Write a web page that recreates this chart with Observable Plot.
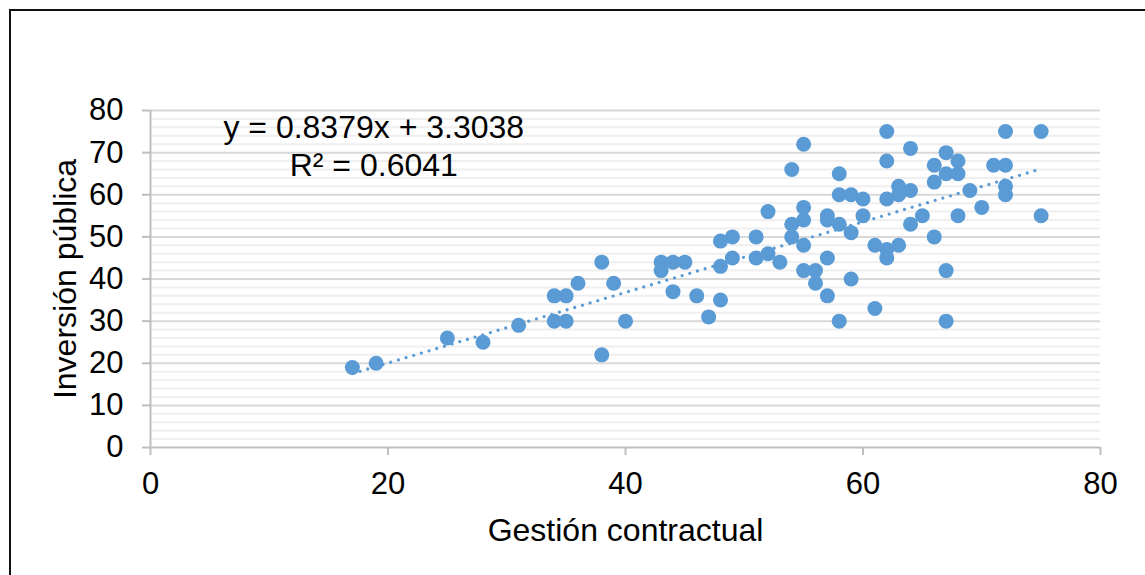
<!DOCTYPE html>
<html>
<head>
<meta charset="utf-8">
<script src="https://cdn.jsdelivr.net/npm/d3@7"></script>
<script src="https://cdn.jsdelivr.net/npm/@observablehq/plot@0.6"></script>
<style>
  html, body { margin: 0; padding: 0; background: #fff; }
  #wrap { position: relative; width: 1145px; height: 575px; overflow: hidden; }
  #frame { position: absolute; left: 9px; top: 9px; width: 1200px; height: 600px;
           border-left: 2px solid #111; border-top: 2px solid #111; box-sizing: border-box; pointer-events: none; }
  #chart { position: absolute; left: 0; top: 0; }
</style>
</head>
<body>
<div id="wrap"><div id="chart"></div><div id="frame"></div></div>
<script>
// Gestión contractual (x) vs Inversión pública (y)
const gestion = [17,19,25,28,31,34,35,34,35,36,38,38,39,40,43,43,44,45,44,46,47,48,48,48,49,49,51,51,52,52,53,54,55,55,55,54,54,55,55,56,56,57,57,57,57,58,58,58,58,59,59,59,60,60,61,61,62,62,62,62,62,63,63,63,64,64,64,65,66,66,66,67,67,67,67,68,68,68,69,70,71,72,72,72,72,75,75];
const inversion = [19,20,26,25,29,36,36,30,30,39,44,22,39,30,44,42,44,44,37,36,31,49,43,35,50,45,50,45,56,46,44,66,72,57,54,53,50,48,42,42,39,55,54,45,36,65,60,53,30,60,51,40,59,55,48,33,75,68,59,47,45,62,60,48,71,61,53,55,67,63,50,70,65,42,30,68,65,55,61,57,67,75,67,62,60,75,55];
const xTicks = [0, 20, 40, 60, 80];
const yTicks = [0, 10, 20, 30, 40, 50, 60, 70, 80];
const slope = 0.8379, intercept = 3.3038, r2 = 0.6041;
const trendX = [17, 75];

const points = gestion.map((g, i) => ({x: g, y: inversion[i]}));
const trend = trendX.map(x => ({x, y: slope * x + intercept}));
const minor = d3.range(0, 81, 2).filter(v => v % 10 !== 0);
const blue = "#5B9BD5";
const font = "'Liberation Sans', Arial, sans-serif";

const chart = Plot.plot({
  width: 1145,
  height: 575,
  marginLeft: 150,
  marginRight: 45,
  marginTop: 110,
  marginBottom: 128,
  style: {fontFamily: font, fontSize: "32px", color: "#000", background: "transparent"},
  x: {domain: [0, 80]},
  y: {domain: [0, 80]},
  marks: [
    Plot.ruleY(minor, {stroke: "#efefef", strokeWidth: 2}),
    Plot.ruleY(yTicks.filter(v => v > 0), {stroke: "#d9d9d9", strokeWidth: 2}),
    Plot.ruleX([0], {stroke: "#bfbfbf", strokeWidth: 2}),
    Plot.ruleY([0], {stroke: "#bfbfbf", strokeWidth: 2}),
    Plot.axisY({ticks: yTicks, tickSize: 8, tickPadding: 19, stroke: "#bfbfbf", strokeWidth: 2,
      label: null, fill: "#000", fontSize: 31}),
    Plot.axisX({ticks: xTicks, tickSize: 8, tickPadding: 16, stroke: "#bfbfbf", strokeWidth: 2,
      label: null, fill: "#000", fontSize: 31}),
    Plot.text(["Inversión pública"], {frameAnchor: "left", textAnchor: "middle", dx: -85, rotate: -90, fontSize: 32, fill: "#000"}),
    Plot.text(["Gestión contractual"], {frameAnchor: "bottom", dy: 93, fontSize: 32, fill: "#000"}),
    Plot.line(trend, {x: "x", y: "y", stroke: blue, strokeWidth: 3.3, strokeDasharray: "0,8", strokeLinecap: "round"}),
    Plot.dot(points, {x: "x", y: "y", r: 7.5, fill: blue, stroke: "none"}),
    Plot.text([`y = ${slope}x + ${intercept}`], {x: 18.8, y: 73.5, lineAnchor: "bottom", fontSize: 32, fill: "#000"}),
    Plot.text([`R² = ${r2}`], {x: 18.8, y: 64.5, lineAnchor: "bottom", fontSize: 32, fill: "#000"})
  ]
});
document.getElementById("chart").appendChild(chart);
</script>
</body>
</html>
